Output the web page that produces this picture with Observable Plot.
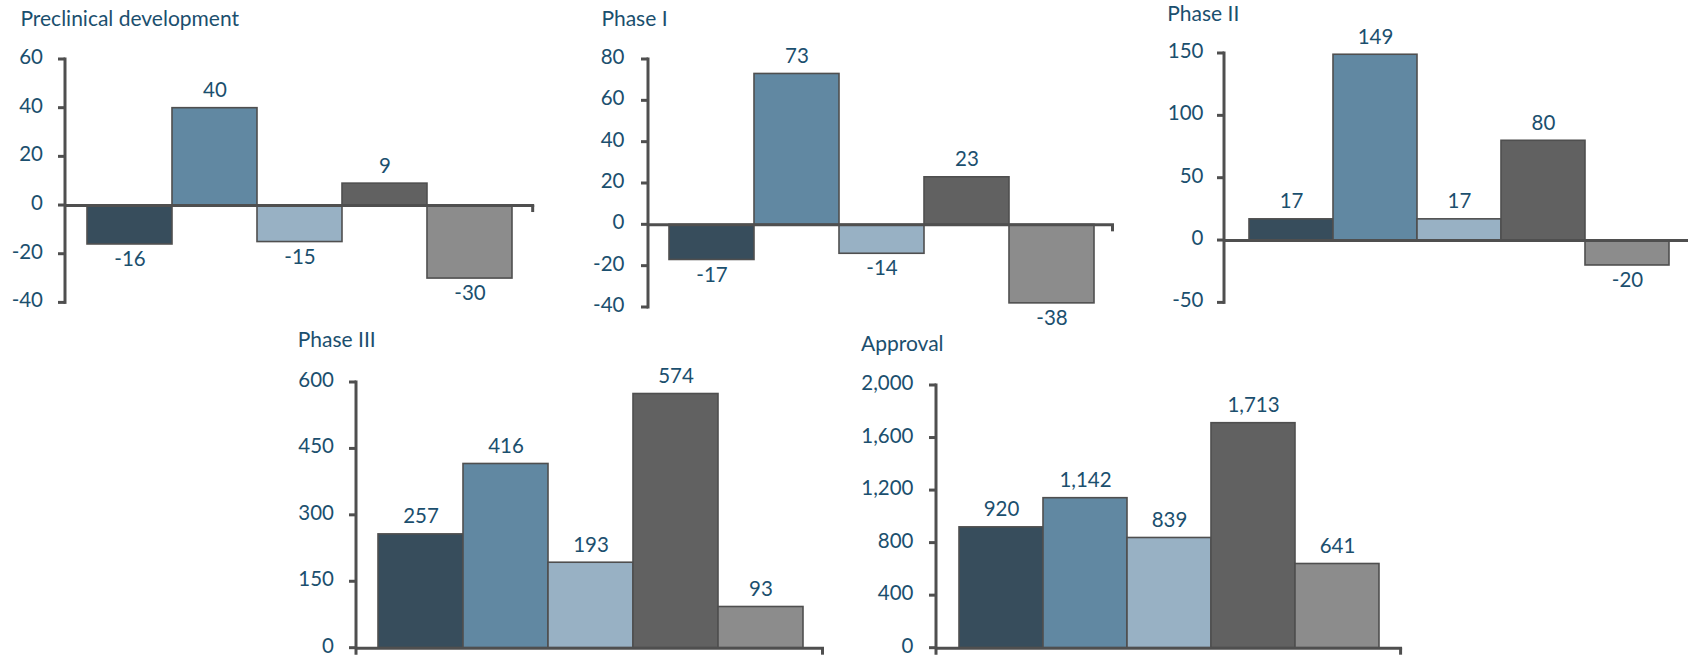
<!DOCTYPE html>
<html>
<head>
<meta charset="utf-8">
<script src="https://cdn.jsdelivr.net/npm/d3@7"></script>
<script src="https://cdn.jsdelivr.net/npm/@observablehq/plot@0.6"></script>
<style>
  html, body { margin: 0; padding: 0; background: #fff; overflow: hidden; }
  #root { position: relative; width: 1688px; height: 655px; overflow: hidden; font-family: Lato, "Open Sans", sans-serif; }
  .title { position: absolute; font-size: 21px; line-height: 1; color: #1b4f6e; white-space: nowrap; }
  .chart { position: absolute; }
</style>
</head>
<body>
<div id="root"></div>
<script>
// ---- data ----
const seriesNames = ["Series 1", "Series 2", "Series 3", "Series 4", "Series 5"];
const barColors = ["#374d5c", "#6188a2", "#98b1c4", "#616161", "#8c8c8c"];
const chartTitles = ["Preclinical development", "Phase I", "Phase II", "Phase III", "Approval"];
const preclinicalValues = [-16, 40, -15, 9, -30];
const phaseIValues = [-17, 73, -14, 23, -38];
const phaseIIValues = [17, 149, 17, 80, -20];
const phaseIIIValues = [257, 416, 193, 574, 93];
const approvalValues = [920, 1142, 839, 1713, 641];
const preclinicalTicks = [-40, -20, 0, 20, 40, 60];
const phaseITicks = [-40, -20, 0, 20, 40, 60, 80];
const phaseIITicks = [-50, 0, 50, 100, 150];
const phaseIIITicks = [0, 150, 300, 450, 600];
const approvalTicks = [0, 400, 800, 1200, 1600, 2000];

const allValues = [preclinicalValues, phaseIValues, phaseIIValues, phaseIIIValues, approvalValues];
const allTicks = [preclinicalTicks, phaseITicks, phaseIITicks, phaseIIITicks, approvalTicks];

// ---- layout (page pixels): frame = [left, top, right, bottom] ----
const layout = [
  {frame: [65.4, 59.3, 534.6, 302.7], title: [20.4, 25.5], pad: 0.247, labelGap: 22.5},
  {frame: [647.7, 59.3, 1113.7, 307.3], title: [601.4, 25.5], pad: 0.238, labelGap: 24},
  {frame: [1223.9, 53.3, 1693, 302.7], title: [1167.3, 20.5], pad: 0.265, labelGap: 21},
  {frame: [356, 382, 824, 647.7], title: [297.8, 347], pad: 0.243, labelGap: 22.6},
  {frame: [936.4, 385, 1402.5, 647.7], title: [861, 350.7], pad: 0.248, labelGap: 23}
];

const textColor = "#1b4f6e";
const axisColor = "#4f4f4f";
const labelSize = 20.5;
const titleSize = 21;
const fmt = d => d.toLocaleString("en-US");
const root = document.getElementById("root");

// axis line, tick marks and x-axis end ticks, positioned with Plot's own y scale
function axisLines(yDomain, ticks) {
  return (index, scales, values, dims) => {
    const g = d3.create("svg:g").attr("stroke", axisColor).attr("stroke-width", 3);
    const xl = dims.marginLeft, xr = dims.width - dims.marginRight;
    const yTop = scales.y(yDomain[1]), yBot = scales.y(yDomain[0]), y0 = scales.y(0);
    const bottomExt = yDomain[0] === 0 ? 7 : 1.5;
    g.append("line").attr("x1", xl).attr("x2", xl).attr("y1", yTop - 1.5).attr("y2", yBot + bottomExt);
    for (const t of ticks) {
      const y = scales.y(t);
      g.append("line").attr("x1", xl - 7).attr("x2", xl).attr("y1", y).attr("y2", y);
    }
    g.append("line").attr("x1", xr - 1.5).attr("x2", xr - 1.5).attr("y1", y0).attr("y2", y0 + 7);
    return g.node();
  };
}

allValues.forEach((vals, i) => {
  const L = layout[i];
  const [fl, ft, fr, fb] = L.frame;
  const ticks = allTicks[i];
  const data = vals.map((v, j) => ({series: seriesNames[j], value: v}));
  const yDomain = [d3.min(ticks), d3.max(ticks)];
  const svgLeft = fl - 70, svgTop = ft - 30;
  const mL = 70, mT = 30, mR = 12, mB = 14;
  const width = fr - svgLeft + mR;
  const height = fb - svgTop + mB;

  const plot = Plot.plot({
    width, height,
    marginLeft: mL, marginTop: mT, marginRight: mR, marginBottom: mB,
    style: {background: "transparent", maxWidth: "none", overflow: "visible", fontFamily: "Lato, 'Open Sans', sans-serif"},
    x: {domain: seriesNames, paddingInner: 0, paddingOuter: L.pad, axis: null},
    y: {domain: yDomain, axis: null},
    color: {domain: seriesNames, range: barColors},
    marks: [
      Plot.barY(data, {x: "series", y: "value", fill: "series", stroke: axisColor, strokeWidth: 1.6}),
      Plot.ruleY([0], {stroke: axisColor, strokeWidth: 3}),
      axisLines(yDomain, ticks),
      Plot.text(ticks, {y: d => d, text: d => fmt(d), frameAnchor: "left", textAnchor: "end",
                        dx: -L.labelGap, dy: -2, fill: textColor, fontSize: labelSize}),
      Plot.text(data, {filter: d => d.value >= 0, x: "series", y: "value", text: d => fmt(d.value),
                       lineAnchor: "bottom", dy: -11, fill: textColor, fontSize: labelSize}),
      Plot.text(data, {filter: d => d.value < 0, x: "series", y: "value", text: d => fmt(d.value),
                       lineAnchor: "top", dy: 7, fill: textColor, fontSize: labelSize})
    ]
  });

  const holder = document.createElement("div");
  holder.className = "chart";
  holder.style.left = svgLeft + "px";
  holder.style.top = svgTop + "px";
  holder.style.width = width + "px";
  holder.appendChild(plot);
  root.appendChild(holder);

  const t = document.createElement("div");
  t.className = "title";
  t.textContent = chartTitles[i];
  t.style.left = L.title[0] + "px";
  t.style.top = (L.title[1] - 0.887 * titleSize) + "px";
  root.appendChild(t);
});
</script>
</body>
</html>
